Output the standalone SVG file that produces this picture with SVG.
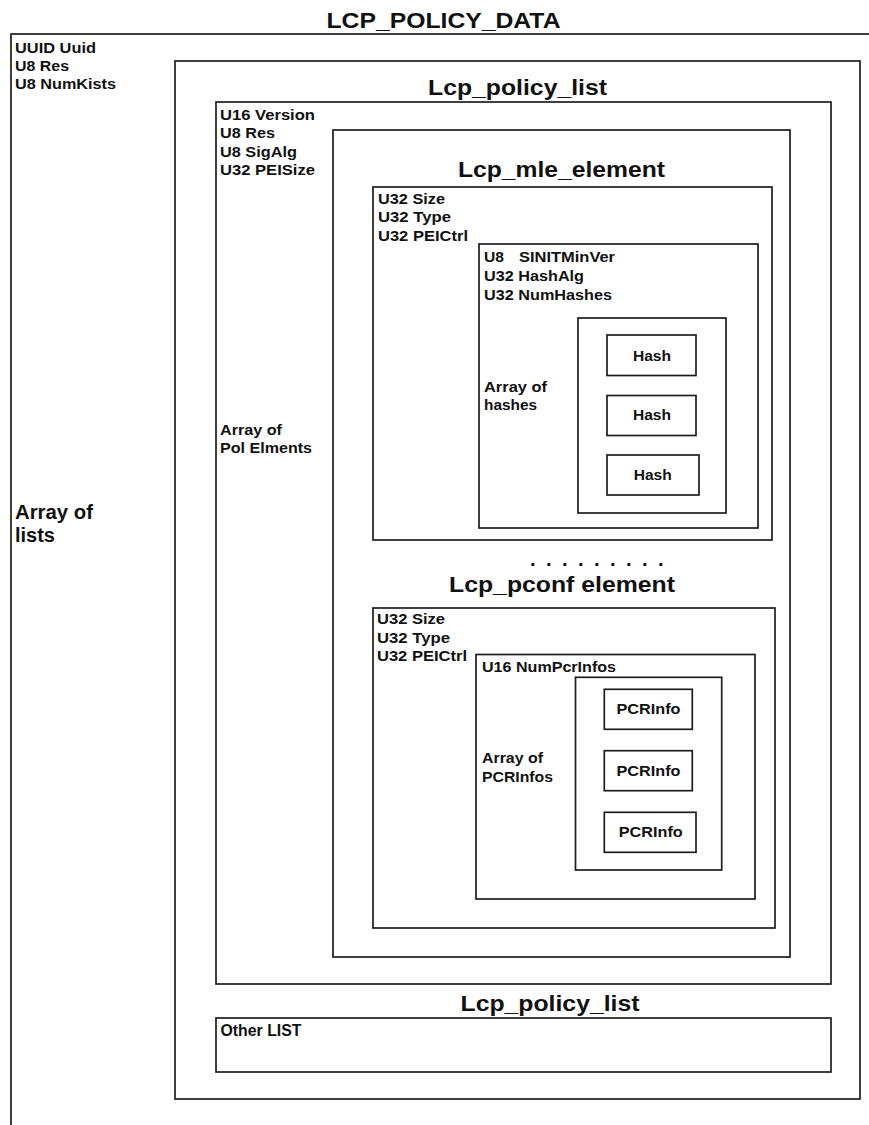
<svg xmlns="http://www.w3.org/2000/svg" width="869" height="1125" viewBox="0 0 869 1125">
<style>
  .box { fill: none; stroke: #1e1e1e; stroke-width: 1.7; }
  .t { font-family: "Liberation Sans", Arial, sans-serif; font-weight: bold; font-size: 15.5px; fill: #111; }
  .big { font-family: "Liberation Sans", Arial, sans-serif; font-weight: bold; font-size: 19.5px; fill: #111; }
  .title { font-family: "Liberation Sans", Arial, sans-serif; font-weight: bold; font-size: 22px; fill: #111; text-anchor: middle; }
  .c { text-anchor: middle; }
  .narrow { font-family: "Liberation Sans Narrow", "Liberation Sans", Arial, sans-serif; font-weight: bold; font-size: 16px; fill: #111; }
</style>
<rect width="869" height="1125" fill="#ffffff"/>

<g id="lcp_policy_data">
  <text class="title" x="443.5" y="28" textLength="234" lengthAdjust="spacingAndGlyphs">LCP_POLICY_DATA</text>
  <rect class="box" x="11" y="34" width="880" height="1110"/>
  <text class="t" x="15" y="52.5" textLength="81" lengthAdjust="spacingAndGlyphs">UUID Uuid</text>
  <text class="t" x="15" y="70.5" textLength="54" lengthAdjust="spacingAndGlyphs">U8 Res</text>
  <text class="t" x="15" y="89" textLength="101" lengthAdjust="spacingAndGlyphs">U8 NumKists</text>
  <text class="big" x="15" y="519" textLength="78" lengthAdjust="spacingAndGlyphs">Array of</text>
  <text class="big" x="15" y="542" textLength="40" lengthAdjust="spacingAndGlyphs">lists</text>
</g>

<g id="lists_container">
  <rect class="box" x="175" y="61" width="685" height="1038"/>
</g>

<g id="lcp_policy_list_1">
  <text class="title" x="517.5" y="95" textLength="179" lengthAdjust="spacingAndGlyphs">Lcp_policy_list</text>
  <rect class="box" x="216" y="102" width="615" height="882"/>
  <text class="t" x="220" y="120" textLength="95" lengthAdjust="spacingAndGlyphs">U16 Version</text>
  <text class="t" x="220" y="138.3" textLength="55" lengthAdjust="spacingAndGlyphs">U8 Res</text>
  <text class="t" x="220" y="156.5" textLength="77" lengthAdjust="spacingAndGlyphs">U8 SigAlg</text>
  <text class="t" x="220" y="175" textLength="95" lengthAdjust="spacingAndGlyphs">U32 PEISize</text>
  <text class="t" x="220" y="435" textLength="62" lengthAdjust="spacingAndGlyphs">Array of</text>
  <text class="t" x="220" y="453" textLength="92" lengthAdjust="spacingAndGlyphs">Pol Elments</text>
</g>

<g id="elements_container">
  <rect class="box" x="333" y="130" width="457" height="827"/>
</g>

<g id="lcp_mle_element">
  <text class="title" x="561.5" y="176.5" textLength="207" lengthAdjust="spacingAndGlyphs">Lcp_mle_element</text>
  <rect class="box" x="373" y="187" width="399" height="353"/>
  <text class="t" x="378" y="204" textLength="67" lengthAdjust="spacingAndGlyphs">U32 Size</text>
  <text class="t" x="378" y="222.3" textLength="73" lengthAdjust="spacingAndGlyphs">U32 Type</text>
  <text class="t" x="378" y="241" textLength="90" lengthAdjust="spacingAndGlyphs">U32 PEICtrl</text>
</g>

<g id="mle_hash_info">
  <rect class="box" x="479" y="244" width="279" height="284"/>
  <text class="t" x="484" y="262" textLength="20" lengthAdjust="spacingAndGlyphs">U8</text>
  <text class="t" x="519" y="262" textLength="96" lengthAdjust="spacingAndGlyphs">SINITMinVer</text>
  <text class="t" x="484" y="281" textLength="100" lengthAdjust="spacingAndGlyphs">U32 HashAlg</text>
  <text class="t" x="484" y="299.5" textLength="128" lengthAdjust="spacingAndGlyphs">U32 NumHashes</text>
  <text class="t" x="484" y="391.5" textLength="63" lengthAdjust="spacingAndGlyphs">Array of</text>
  <text class="t" x="484" y="410" textLength="53" lengthAdjust="spacingAndGlyphs">hashes</text>
</g>

<g id="hash_array">
  <rect class="box" x="578" y="318" width="148" height="195"/>
</g>
<g id="hash_1">
  <rect class="box" x="607" y="335" width="89" height="40.5"/>
  <text class="t c" x="652" y="360.5" textLength="38" lengthAdjust="spacingAndGlyphs">Hash</text>
</g>
<g id="hash_2">
  <rect class="box" x="607" y="395.5" width="89" height="40"/>
  <text class="t c" x="652" y="420" textLength="38" lengthAdjust="spacingAndGlyphs">Hash</text>
</g>
<g id="hash_3">
  <rect class="box" x="607" y="455" width="92" height="40"/>
  <text class="t c" x="652.7" y="480" textLength="38" lengthAdjust="spacingAndGlyphs">Hash</text>
</g>

<g id="ellipsis">
  <text class="t" style="font-size:20px" x="530 546 562 578 594 610 626 642 658" y="565.5">.........</text>
</g>

<g id="lcp_pconf_element">
  <text class="title" x="562" y="591.5" textLength="226" lengthAdjust="spacingAndGlyphs">Lcp_pconf element</text>
  <rect class="box" x="373" y="608" width="402" height="320"/>
  <text class="t" x="377" y="624.3" textLength="68" lengthAdjust="spacingAndGlyphs">U32 Size</text>
  <text class="t" x="377" y="642.5" textLength="73" lengthAdjust="spacingAndGlyphs">U32 Type</text>
  <text class="t" x="377" y="661" textLength="90" lengthAdjust="spacingAndGlyphs">U32 PEICtrl</text>
</g>

<g id="pcr_info_set">
  <rect class="box" x="476" y="654.5" width="279" height="244.5"/>
  <text class="t" x="482" y="671.5" textLength="134" lengthAdjust="spacingAndGlyphs">U16 NumPcrInfos</text>
  <text class="t" x="482" y="763.3" textLength="61" lengthAdjust="spacingAndGlyphs">Array of</text>
  <text class="t" x="482" y="781.5" textLength="71" lengthAdjust="spacingAndGlyphs">PCRInfos</text>
</g>

<g id="pcr_array">
  <rect class="box" x="575.5" y="677.3" width="146.2" height="192.7"/>
</g>
<g id="pcrinfo_1">
  <rect class="box" x="604.3" y="689.3" width="88" height="40"/>
  <text class="t c" x="648.5" y="714" textLength="64" lengthAdjust="spacingAndGlyphs">PCRInfo</text>
</g>
<g id="pcrinfo_2">
  <rect class="box" x="604.3" y="750.7" width="88" height="40"/>
  <text class="t c" x="648.5" y="775.7" textLength="64" lengthAdjust="spacingAndGlyphs">PCRInfo</text>
</g>
<g id="pcrinfo_3">
  <rect class="box" x="604.3" y="812.3" width="91.7" height="40"/>
  <text class="t c" x="650.8" y="836.7" textLength="64" lengthAdjust="spacingAndGlyphs">PCRInfo</text>
</g>

<g id="lcp_policy_list_2">
  <text class="title" x="550" y="1011" textLength="179" lengthAdjust="spacingAndGlyphs">Lcp_policy_list</text>
  <rect class="box" x="216" y="1018" width="615" height="54"/>
  <text class="narrow" x="220.5" y="1035.5" textLength="81" lengthAdjust="spacingAndGlyphs">Other LIST</text>
</g>

<g id="connectors"></g>
</svg>
